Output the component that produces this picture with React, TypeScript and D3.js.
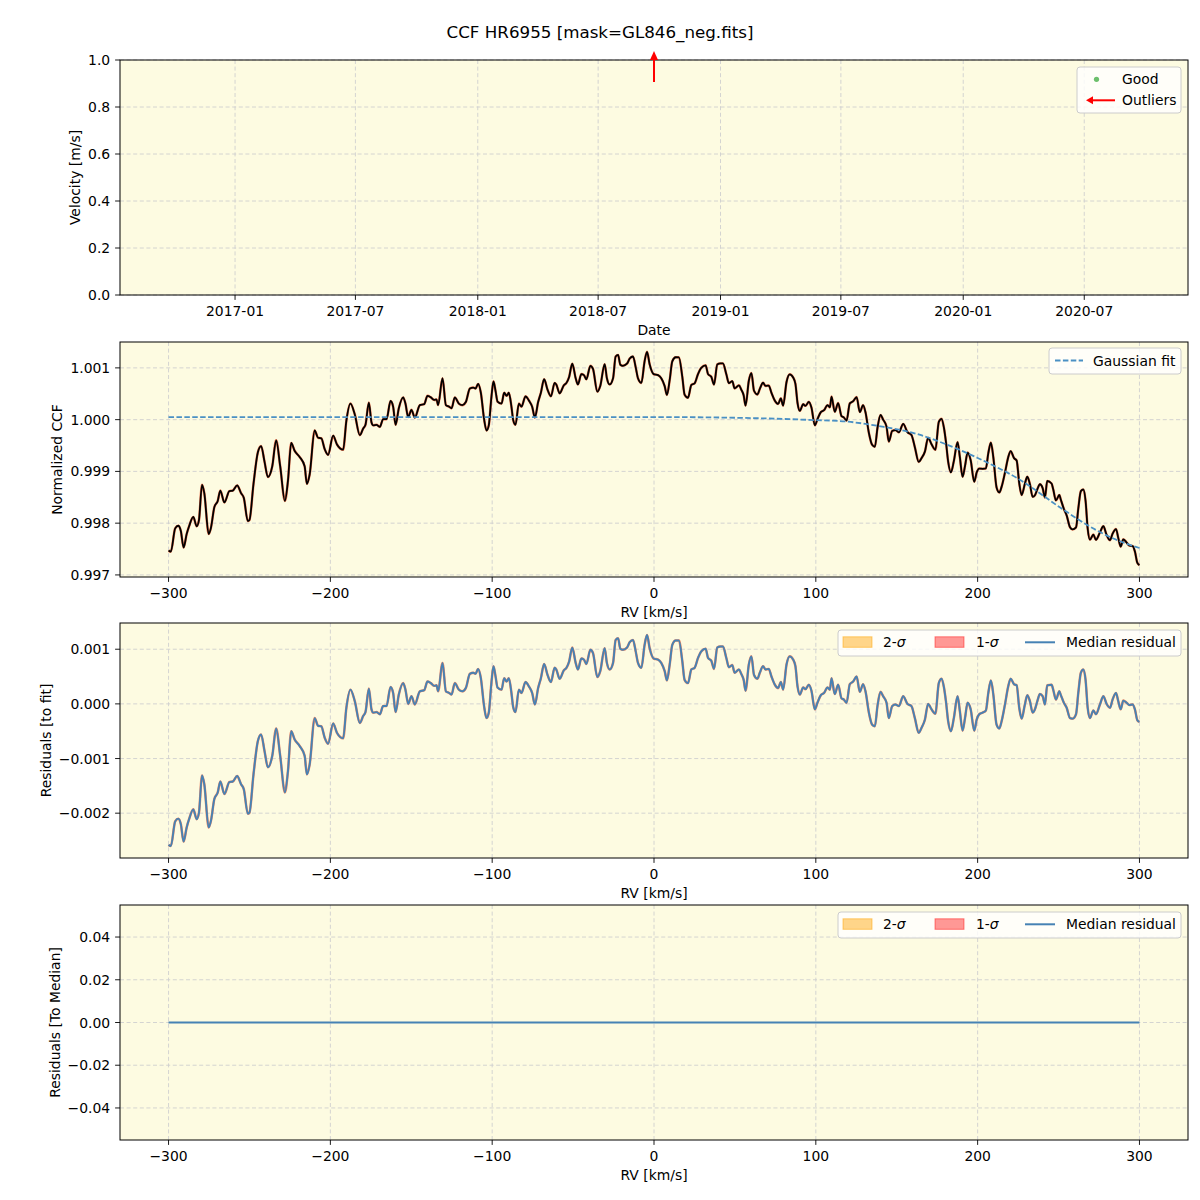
import React from "react";
import * as d3 from "d3";

// ---------------- DATA ----------------
const TITLE = "CCF HR6955 [mask=GL846_neg.fits]";

// Panel 1: velocity time series (no good points, one outlier arrow)
const DATE_DOMAIN = ["2016-07-12", "2020-12-04"];
const DATE_TICKS = ["2017-01-01", "2017-07-01", "2018-01-01", "2018-07-01", "2019-01-01", "2019-07-01", "2020-01-01", "2020-07-01"];
const OUTLIER_DATES = ["2018-09-23"];
const VEL_DOMAIN = [0, 1];
const VEL_TICKS = [0, 0.2, 0.4, 0.6, 0.8, 1.0];

// RV axis
const RV_DOMAIN = [-330, 330];
const RV_TICKS = [-300, -200, -100, 0, 100, 200, 300];

// Gaussian fit knots [RV km/s, normalized CCF]
const FIT_KNOTS: [number, number][] = [
  [-300, 1.00005], [0, 1.00005], [60, 1.00003], [100, 0.99999], [120, 0.99996],
  [140, 0.99987], [164, 0.99971], [180, 0.99953], [200, 0.99926], [226, 0.99884],
  [253, 0.99826], [273, 0.99787], [288, 0.99765], [300, 0.99752],
];

// Residual to fit, [RV km/s, residual x 1e3]
const RESIDUAL_MILLI: [number, number][] = [
  [-300, -2.58], [-298.6, -2.60], [-295.9, -2.15], [-294.0, -2.10], [-292.4, -2.20], [-290.7, -2.52],
  [-288.8, -2.26], [-287.2, -2.10], [-284.7, -1.93], [-282.6, -2.11], [-281.2, -1.99], [-279.3, -1.31],
  [-277.9, -1.47], [-275.2, -2.26], [-273.8, -2.14], [-271.7, -1.74], [-269.6, -1.62], [-268.0, -1.42],
  [-265.5, -1.65], [-262.4, -1.43], [-260.3, -1.42], [-257.6, -1.32], [-255.2, -1.47], [-253.5, -1.56],
  [-251.0, -2.01], [-250.0, -1.99], [-247.5, -1.29], [-244.8, -0.68], [-242.8, -0.56], [-240.7, -0.86],
  [-238.6, -1.16], [-235.9, -0.95], [-233.5, -0.45], [-231.0, -0.95], [-228.1, -1.62], [-226.2, -1.23],
  [-224.2, -0.50], [-222.1, -0.65], [-219.0, -0.77], [-215.9, -0.95], [-214.5, -1.29], [-212.8, -1.11],
  [-209.7, -0.26], [-207.6, -0.40], [-205.6, -0.41], [-203.5, -0.62], [-201.4, -0.73], [-198.3, -0.36],
  [-195.9, -0.53], [-192.1, -0.63], [-190.1, -0.07], [-187.6, 0.26], [-184.9, 0.05],
  [-181.8, -0.35], [-179.7, -0.22], [-178.3, -0.15], [-176.2, 0.28], [-174.6, -0.10], [-173.5, -0.16],
  [-171.5, -0.15], [-169.4, -0.19], [-167.4, -0.04], [-165.3, -0.04], [-162.8, 0.31], [-161.2, 0.20],
  [-159.7, -0.15], [-157.7, 0.17], [-155.0, 0.38], [-153.6, 0.26], [-151.9, 0.00], [-149.9, 0.14],
  [-147.8, -0.01], [-144.7, 0.23], [-142.0, 0.25], [-140.0, 0.41], [-137.9, 0.38], [-135.8, 0.33],
  [-134.4, 0.34], [-133.4, 0.23], [-130.7, 0.75], [-128.6, 0.23], [-126.6, 0.20], [-125.1, 0.17],
  [-123.1, 0.38], [-120.6, 0.26], [-118.5, 0.23], [-116.3, 0.29], [-113.8, 0.55], [-111.7, 0.57],
  [-110.3, 0.55], [-108.7, 0.64], [-107.0, 0.47], [-105.0, -0.04], [-103.5, -0.26], [-102.1, -0.16],
  [-100.4, 0.41], [-99.2, 0.69], [-97.9, 0.50], [-96.7, 0.30], [-94.2, 0.26], [-92.6, 0.47],
  [-91.1, 0.41], [-89.7, 0.47], [-88.1, 0.20], [-87.0, -0.06], [-85.6, -0.15], [-83.5, 0.26],
  [-81.9, 0.20], [-79.4, 0.40], [-77.3, 0.32], [-75.3, 0.20], [-73.6, -0.01], [-71.6, 0.29],
  [-69.9, 0.47], [-67.9, 0.73], [-65.8, 0.53], [-63.7, 0.40],
  [-61.4, 0.66], [-60.4, 0.63], [-58.3, 0.46], [-55.8, 0.61], [-54.1, 0.66], [-52.5, 0.77],
  [-50.5, 1.03], [-48.4, 0.75], [-47.0, 0.63], [-44.9, 0.83], [-43.3, 0.81], [-41.8, 0.73],
  [-39.3, 0.99], [-37.7, 0.93], [-35.0, 0.49], [-33.2, 0.60], [-30.5, 1.02], [-29.1, 0.75],
  [-27.4, 0.63], [-25.3, 0.75], [-23.7, 1.17], [-22.2, 1.20], [-20.8, 1.01], [-19.2, 0.99],
  [-16.7, 1.03], [-15.0, 1.13], [-13.0, 1.17], [-11.3, 0.96], [-9.9, 0.75], [-7.8, 0.66],
  [-5.8, 1.08], [-4.3, 1.26], [-2.7, 1.02], [-0.2, 0.83], [2.5, 0.81], [4.5, 0.75],
  [6.6, 0.60], [8.0, 0.43], [9.7, 0.72], [11.3, 1.08], [13.4, 1.16], [15.4, 1.16],
  [17.5, 0.78], [18.9, 0.44], [21.0, 0.38], [23.1, 0.63], [25.1, 0.66], [27.2, 0.84],
  [29.2, 0.96], [31.9, 1.01], [33.4, 0.84], [35.4, 0.79], [37.1, 0.64], [39.1, 1.03],
  [41.0, 1.05], [42.6, 1.05], [44.7, 0.84], [46.3, 0.67], [48.4, 0.71], [49.8, 0.57],
  [52.5, 0.63], [53.9, 0.55], [55.4, 0.44], [56.6, 0.24],
  [58.6, 0.72], [60.2, 0.87], [61.8, 0.53], [63.9, 0.46], [65.4, 0.57], [67.4, 0.69],
  [68.9, 0.63], [70.9, 0.64], [72.6, 0.50], [74.7, 0.35], [76.7, 0.29], [78.4, 0.40],
  [79.8, 0.26], [81.9, 0.72], [83.9, 0.87], [86.0, 0.81], [87.4, 0.69], [88.7, 0.32],
  [90.1, 0.17], [92.2, 0.30], [93.6, 0.27], [95.7, 0.35], [97.3, 0.24], [99.4, -0.10],
  [101.0, 0.02], [103.1, 0.16], [105.1, 0.20], [107.2, 0.30], [108.7, 0.26], [109.7, 0.47],
  [111.7, 0.18], [113.8, 0.35], [115.9, 0.10], [117.3, 0.08], [119.0, 0.02], [121.0, 0.36],
  [123.1, 0.41], [125.2, 0.50], [127.2, 0.22], [129.2, 0.36], [130.7, 0.23], [132.8, -0.16],
  [134.8, -0.38], [136.5, -0.41], [138.1, -0.04], [140.0, 0.22], [141.6, 0.14], [143.7, 0.02],
  [145.1, -0.26], [147.2, -0.04], [149.2, -0.01], [151.3, -0.04], [154.0, 0.14], [156.6, 0.00],
  [159.1, -0.04], [161.2, -0.26], [163.6, -0.53], [165.3, -0.44], [167.4, -0.29], [169.4, 0.00],
  [171.5, -0.10], [173.9, -0.18], [176.0, 0.38], [177.7, 0.46], [179.2, 0.30],
  [180.4, 0.05], [181.8, -0.32], [183.5, -0.50], [185.3, -0.26], [187.6, 0.14], [189.0, -0.13],
  [190.7, -0.49], [192.2, -0.26], [193.8, 0.02], [195.7, -0.10], [197.9, -0.49], [199.4, -0.29],
  [201.0, -0.19], [203.1, -0.16], [205.1, -0.12], [206.6, 0.20], [208.2, 0.43], [209.7, 0.17],
  [211.7, -0.38], [213.4, -0.45], [214.8, -0.32], [216.9, -0.01], [218.9, 0.32], [220.4, 0.46],
  [222.5, 0.36], [224.1, 0.34], [225.7, -0.07], [227.2, -0.27], [229.2, -0.01], [230.7, 0.16],
  [232.3, 0.05], [234.0, -0.16], [235.4, -0.10], [236.9, 0.05], [238.5, 0.18], [240.2, 0.14],
  [241.6, -0.01], [243.0, 0.34], [245.7, 0.35], [246.7, 0.26], [248.4, 0.08], [250.5, 0.23],
  [251.3, 0.17], [253.3, 0.02], [255.0, -0.07], [257.1, -0.26], [258.7, -0.27], [260.8, -0.19],
  [262.2, 0.20], [263.8, 0.57], [265.3, 0.63], [266.7, 0.44], [268.0, -0.07], [269.4, -0.26],
  [271.5, -0.12], [273.1, -0.19], [275.6, -0.01], [277.7, 0.14], [279.7, 0.00], [281.8, -0.07],
  [283.4, 0.08], [285.5, 0.20], [286.9, 0.05], [288.4, -0.10], [290.0, 0.06], [292.1, 0.02],
  [293.7, -0.02], [295.8, -0.01], [297.2, -0.10], [298.7, -0.30], [300.0, -0.33],
];

// Residual to median (single spectrum -> zero)
const MEDIAN_RESID: [number, number][] = [[-300, 0], [300, 0]];

const CCF_DOMAIN = [0.99696, 1.0015];
const CCF_TICKS = [0.997, 0.998, 0.999, 1.0, 1.001];
const RES_DOMAIN = [-0.00282, 0.00148];
const RES_TICKS = [-0.002, -0.001, 0, 0.001];
const MED_DOMAIN = [-0.055, 0.055];
const MED_TICKS = [-0.04, -0.02, 0, 0.02, 0.04];

// ---------------- STYLE / LAYOUT ----------------
const FONT = "DejaVu Sans, Verdana, sans-serif";
const BG = "#fdfbe1";
const GRID = "#cfcfcf";
const L = 120, R = 1188, PH = 235;
const TOPS = [60, 342, 623, 905];
const TICK = 4.9;
const FS = 13.9;
const BLUE = "#4682b4";
const FITBLUE = "#4a90c4";

type PanelProps = {
  id: string;
  top: number;
  x: any;
  y: any;
  xTicks: any[];
  xFmt: (v: any) => string;
  yTicks: number[];
  yFmt: (v: number) => string;
  xLabel: string;
  yLabel: string;
  yLabelX: number;
  children?: React.ReactNode;
  overlay?: React.ReactNode;
};

function Panel(p: PanelProps) {
  const bottom = p.top + PH;
  return (
    <g>
      <rect x={L} y={p.top} width={R - L} height={PH} fill={BG} />
      {p.xTicks.map((t, i) => (
        <line key={"gx" + i} x1={p.x(t)} x2={p.x(t)} y1={p.top} y2={bottom}
          stroke={GRID} strokeWidth={0.9} strokeDasharray="4,2.6" />
      ))}
      {p.yTicks.map((t, i) => (
        <line key={"gy" + i} x1={L} x2={R} y1={p.y(t)} y2={p.y(t)}
          stroke={GRID} strokeWidth={0.9} strokeDasharray="4,2.6" />
      ))}
      <clipPath id={p.id}>
        <rect x={L} y={p.top} width={R - L} height={PH} />
      </clipPath>
      <g clipPath={`url(#${p.id})`}>{p.children}</g>
      <rect x={L} y={p.top} width={R - L} height={PH} fill="none" stroke="#000" strokeWidth={1} />
      {p.xTicks.map((t, i) => (
        <g key={"tx" + i}>
          <line x1={p.x(t)} x2={p.x(t)} y1={bottom} y2={bottom + TICK} stroke="#000" strokeWidth={0.9} />
          <text x={p.x(t)} y={bottom + 21} textAnchor="middle" fontSize={FS} fontFamily={FONT}>{p.xFmt(t)}</text>
        </g>
      ))}
      {p.yTicks.map((t, i) => (
        <g key={"ty" + i}>
          <line x1={L - TICK} x2={L} y1={p.y(t)} y2={p.y(t)} stroke="#000" strokeWidth={0.9} />
          <text x={L - TICK - 4.9} y={p.y(t)} dy="0.36em" textAnchor="end" fontSize={FS} fontFamily={FONT}>{p.yFmt(t)}</text>
        </g>
      ))}
      <text x={(L + R) / 2} y={bottom + 40} textAnchor="middle" fontSize={FS} fontFamily={FONT}>{p.xLabel}</text>
      <text transform={`translate(${p.yLabelX},${p.top + PH / 2}) rotate(-90)`} textAnchor="middle" fontSize={FS} fontFamily={FONT}>{p.yLabel}</text>
      {p.overlay}
    </g>
  );
}

function SigmaLegend({ top }: { top: number }) {
  const cy = top + 19.3;
  return (
    <g fontFamily={FONT} fontSize={FS}>
      <rect x={838} y={top + 7} width={343} height={26} rx={3} fill="#fff" fillOpacity={0.8} stroke="#cccccc" strokeWidth={1} />
      <rect x={843} y={cy - 5.5} width={29} height={10.5} fill="orange" fillOpacity={0.45} stroke="orange" strokeOpacity={0.5} />
      <text x={883} y={cy} dy="0.36em">2-<tspan fontStyle="italic">σ</tspan></text>
      <rect x={935} y={cy - 5.5} width={29} height={10.5} fill="red" fillOpacity={0.4} stroke="red" strokeOpacity={0.45} />
      <text x={976} y={cy} dy="0.36em">1-<tspan fontStyle="italic">σ</tspan></text>
      <line x1={1025} x2={1055} y1={cy} y2={cy} stroke={BLUE} strokeWidth={2} />
      <text x={1066} y={cy} dy="0.36em">Median residual</text>
    </g>
  );
}

export default function App() {
  const parse = (s: string) => new Date(s + "T00:00:00Z");

  // Panel 1
  const xDate = d3.scaleUtc().domain(DATE_DOMAIN.map(parse)).range([L, R]);
  const yVel = d3.scaleLinear().domain(VEL_DOMAIN).range([TOPS[0] + PH, TOPS[0]]);

  // RV panels
  const xRV = d3.scaleLinear().domain(RV_DOMAIN).range([L, R]);
  const yCCF = d3.scaleLinear().domain(CCF_DOMAIN).range([TOPS[1] + PH, TOPS[1]]);
  const yRes = d3.scaleLinear().domain(RES_DOMAIN).range([TOPS[2] + PH, TOPS[2]]);
  const yMed = d3.scaleLinear().domain(MED_DOMAIN).range([TOPS[3] + PH, TOPS[3]]);

  const fitAt = d3.scaleLinear().domain(FIT_KNOTS.map((d) => d[0])).range(FIT_KNOTS.map((d) => d[1]));
  const resid = RESIDUAL_MILLI.map(([rv, r]) => [rv, r / 1000] as [number, number]);
  const ccf = resid.map(([rv, r]) => [rv, fitAt(rv) + r] as [number, number]);

  const lineCCF = d3.line<[number, number]>().x((d) => xRV(d[0])).y((d) => yCCF(d[1])).curve(d3.curveMonotoneX);
  const lineFit = d3.line<[number, number]>().x((d) => xRV(d[0])).y((d) => yCCF(d[1])).curve(d3.curveMonotoneX);
  const lineRes = d3.line<[number, number]>().x((d) => xRV(d[0])).y((d) => yRes(d[1])).curve(d3.curveMonotoneX);
  const lineMed = d3.line<[number, number]>().x((d) => xRV(d[0])).y((d) => yMed(d[1]));

  const dateFmt = d3.utcFormat("%Y-%m");
  const rvFmt = d3.format("d");
  const f1 = d3.format(".1f");
  const f3 = d3.format(".3f");
  const f2 = d3.format(".2f");

  const outlierArrows = OUTLIER_DATES.map((s, i) => {
    const x = xDate(parse(s));
    return (
      <g key={"out" + i}>
        <line x1={x} x2={x} y1={82} y2={58} stroke="red" strokeWidth={2} />
        <path d={`M${x - 4},${60} L${x},${51} L${x + 4},${60} Z`} fill="red" />
      </g>
    );
  });

  return (
    <svg width={1200} height={1200} style={{ position: "absolute", left: 0, top: 0, background: "#fff" }}
      fontFamily={FONT}>
      <rect x={0} y={0} width={1200} height={1200} fill="#fff" />
      <text x={600} y={38} textAnchor="middle" fontSize={16.7} fontFamily={FONT}>{TITLE}</text>

      <Panel id="c1" top={TOPS[0]} x={xDate} y={yVel} xTicks={DATE_TICKS.map(parse)} xFmt={dateFmt}
        yTicks={VEL_TICKS} yFmt={f1} xLabel="Date" yLabel="Velocity [m/s]" yLabelX={80}
        overlay={
          <g>
            {outlierArrows}
            <g fontFamily={FONT} fontSize={FS}>
              <rect x={1077} y={67} width={104} height={46} rx={3} fill="#fff" fillOpacity={0.8} stroke="#cccccc" strokeWidth={1} />
              <circle cx={1096.5} cy={79.3} r={2.6} fill="#5cb85c" fillOpacity={0.9} />
              <text x={1122} y={79.3} dy="0.36em">Good</text>
              <line x1={1115} x2={1091} y1={100.3} y2={100.3} stroke="red" strokeWidth={2} />
              <path d="M1093,96.3 L1086,100.3 L1093,104.3 Z" fill="red" />
              <text x={1122} y={100.3} dy="0.36em">Outliers</text>
            </g>
          </g>
        }
      />

      <Panel id="c2" top={TOPS[1]} x={xRV} y={yCCF} xTicks={RV_TICKS} xFmt={rvFmt}
        yTicks={CCF_TICKS} yFmt={f3} xLabel="RV [km/s]" yLabel="Normalized CCF" yLabelX={62}
        overlay={
          <g fontFamily={FONT} fontSize={FS}>
            <rect x={1049} y={348} width={132} height={26} rx={3} fill="#fff" fillOpacity={0.8} stroke="#cccccc" strokeWidth={1} />
            <line x1={1055} x2={1083} y1={360.5} y2={360.5} stroke={FITBLUE} strokeWidth={1.8} strokeDasharray="5.5,2.4" />
            <text x={1093} y={360.5} dy="0.36em">Gaussian fit</text>
          </g>
        }
      >
        <path d={lineCCF(ccf) || ""} fill="none" stroke="#e8552e" strokeOpacity={0.8} strokeWidth={2.5} />
        <path d={lineCCF(ccf) || ""} fill="none" stroke="#000" strokeWidth={1.8} />
        <path d={lineFit(FIT_KNOTS) || ""} fill="none" stroke={FITBLUE} strokeWidth={1.8} strokeDasharray="5.5,2.4" />
      </Panel>

      <Panel id="c3" top={TOPS[2]} x={xRV} y={yRes} xTicks={RV_TICKS} xFmt={rvFmt}
        yTicks={RES_TICKS} yFmt={f3} xLabel="RV [km/s]" yLabel="Residuals [to fit]" yLabelX={51}
        overlay={<SigmaLegend top={TOPS[2]} />}
      >
        <path d={lineRes(resid) || ""} fill="none" stroke="#e8552e" strokeOpacity={0.7} strokeWidth={2.5} />
        <path d={lineRes(resid) || ""} fill="none" stroke={BLUE} strokeWidth={1.9} />
      </Panel>

      <Panel id="c4" top={TOPS[3]} x={xRV} y={yMed} xTicks={RV_TICKS} xFmt={rvFmt}
        yTicks={MED_TICKS} yFmt={f2} xLabel="RV [km/s]" yLabel="Residuals [To Median]" yLabelX={60}
        overlay={<SigmaLegend top={TOPS[3]} />}
      >
        <path d={lineMed(MEDIAN_RESID) || ""} fill="none" stroke={BLUE} strokeWidth={1.9} />
      </Panel>
    </svg>
  );
}
